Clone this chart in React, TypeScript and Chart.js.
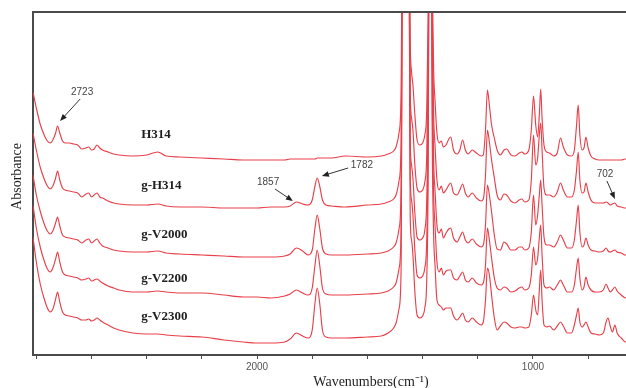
import React, { useEffect, useRef } from 'react';
import { Chart, registerables } from 'chart.js';

Chart.register(...registerables);

// Wavenumber grid (cm-1), shared by all spectra
const wavenumbers = [
  2812, 2800, 2785, 2770, 2760, 2750, 2740, 2730, 2723, 2715,
  2705, 2695, 2680, 2665, 2650, 2635, 2620, 2610, 2600, 2590,
  2580, 2570, 2560, 2540, 2520, 2500, 2450, 2400, 2360, 2330,
  2280, 2200, 2120, 2050, 2000, 1950, 1900, 1880, 1857, 1835,
  1815, 1800, 1790, 1782, 1773, 1763, 1750, 1730, 1680, 1600,
  1550, 1525, 1505, 1495, 1485, 1478, 1472, 1465, 1458, 1450,
  1445, 1440, 1435, 1428, 1420, 1410, 1400, 1392, 1385, 1380,
  1375, 1370, 1365, 1360, 1355, 1348, 1340, 1332, 1325, 1315,
  1305, 1298, 1288, 1275, 1265, 1255, 1245, 1235, 1220, 1205,
  1188, 1180, 1172, 1165, 1158, 1150, 1140, 1130, 1118, 1105,
  1095, 1080, 1065, 1050, 1040, 1030, 1015, 1006, 998, 990,
  983, 977, 972, 967, 960, 950, 940, 925, 912, 900,
  890, 875, 860, 850, 842, 836, 830, 822, 815, 808,
  800, 790, 775, 760, 745, 735, 728, 720, 712, 703,
  695, 680, 665, 650,
];

// Absorbance (stacked, arbitrary offset) for each sample
const h314 = [
  2.63, 2.47, 2.30, 2.19, 2.14, 2.12, 2.15, 2.22, 2.29, 2.22,
  2.14, 2.12, 2.12, 2.11, 2.10, 2.06, 2.07, 2.08, 2.05, 2.06,
  2.10, 2.07, 2.05, 2.03, 2.01, 2.00, 1.99, 2.00, 2.03, 1.99,
  1.98, 1.97, 1.96, 1.95, 1.95, 1.95, 1.95, 1.96, 1.96, 1.96,
  1.96, 1.96, 1.96, 1.97, 1.97, 1.97, 1.97, 1.97, 1.99, 1.98,
  1.99, 2.01, 2.04, 2.09, 2.23, 2.60, 5.05, 5.05, 5.05, 4.75,
  3.15, 2.83, 2.70, 2.40, 2.15, 2.10, 2.12, 2.20, 2.45, 3.35,
  5.05, 5.05, 3.75, 2.85, 2.55, 2.22, 2.12, 2.14, 2.08, 2.10,
  2.16, 2.18, 2.05, 2.01, 2.05, 2.15, 2.05, 2.01, 2.05, 2.02,
  1.99, 2.00, 2.25, 2.65, 2.50, 2.30, 2.17, 2.05, 2.00, 2.05,
  2.06, 2.00, 1.99, 2.02, 2.03, 2.01, 2.05, 2.25, 2.59, 2.30,
  2.18, 2.40, 2.66, 2.37, 2.10, 2.03, 2.02, 1.99, 2.02, 2.17,
  2.08, 2.00, 1.99, 2.05, 2.30, 2.50, 2.20, 2.05, 2.07, 2.18,
  2.07, 1.99, 1.96, 1.95, 1.95, 1.95, 1.95, 1.95, 1.95, 1.95,
  1.95, 1.95, 1.96, 1.96,
];

const gH314 = [
  2.22, 2.05, 1.87, 1.75, 1.69, 1.66, 1.69, 1.77, 1.84, 1.75,
  1.67, 1.65, 1.64, 1.63, 1.62, 1.58, 1.61, 1.62, 1.58, 1.60,
  1.62, 1.58, 1.57, 1.54, 1.52, 1.51, 1.50, 1.50, 1.51, 1.49,
  1.48, 1.48, 1.47, 1.47, 1.47, 1.48, 1.48, 1.49, 1.53, 1.51,
  1.50, 1.55, 1.69, 1.77, 1.69, 1.55, 1.50, 1.49, 1.48, 1.50,
  1.51, 1.53, 1.56, 1.61, 1.75, 2.10, 5.05, 5.05, 5.05, 4.75,
  2.65, 2.37, 2.25, 1.90, 1.67, 1.63, 1.65, 1.73, 2.00, 2.95,
  5.05, 5.05, 3.35, 2.40, 2.10, 1.75, 1.65, 1.69, 1.62, 1.65,
  1.70, 1.72, 1.62, 1.60, 1.65, 1.71, 1.62, 1.58, 1.62, 1.57,
  1.54, 1.56, 1.80, 2.25, 2.13, 1.95, 1.77, 1.60, 1.55, 1.61,
  1.60, 1.54, 1.52, 1.55, 1.56, 1.53, 1.55, 1.75, 2.20, 1.90,
  1.97, 2.20, 2.32, 2.05, 1.67, 1.60, 1.60, 1.58, 1.63, 1.72,
  1.65, 1.58, 1.58, 1.65, 1.85, 2.03, 1.75, 1.62, 1.63, 1.72,
  1.63, 1.55, 1.52, 1.52, 1.52, 1.53, 1.52, 1.50, 1.51, 1.52,
  1.49, 1.48, 1.47, 1.47,
];

const gV2000 = [
  1.80, 1.60, 1.43, 1.30, 1.24, 1.21, 1.24, 1.32, 1.38, 1.29,
  1.20, 1.18, 1.17, 1.16, 1.15, 1.12, 1.15, 1.16, 1.12, 1.14,
  1.16, 1.12, 1.09, 1.07, 1.05, 1.04, 1.03, 1.03, 1.04, 1.02,
  1.01, 1.00, 0.99, 0.98, 0.98, 0.98, 0.99, 1.01, 1.07, 1.04,
  1.00, 1.05, 1.27, 1.40, 1.27, 1.07, 1.01, 1.00, 1.00, 1.01,
  1.02, 1.04, 1.08, 1.13, 1.27, 1.65, 5.05, 5.05, 5.05, 4.75,
  2.15, 1.90, 1.77, 1.42, 1.18, 1.15, 1.17, 1.25, 1.55, 2.55,
  5.05, 5.05, 2.95, 1.95, 1.65, 1.30, 1.22, 1.26, 1.17, 1.22,
  1.26, 1.27, 1.17, 1.13, 1.18, 1.23, 1.15, 1.12, 1.16, 1.11,
  1.08, 1.10, 1.30, 1.70, 1.60, 1.43, 1.20, 1.06, 1.05, 1.13,
  1.11, 1.05, 1.05, 1.08, 1.08, 1.05, 1.07, 1.23, 1.60, 1.30,
  1.40, 1.60, 1.75, 1.50, 1.18, 1.10, 1.10, 1.08, 1.13, 1.20,
  1.15, 1.07, 1.07, 1.15, 1.35, 1.50, 1.23, 1.08, 1.10, 1.17,
  1.10, 1.05, 1.04, 1.03, 1.04, 1.07, 1.04, 1.03, 1.04, 1.05,
  1.03, 1.02, 1.00, 1.00,
];

const gV2200 = [
  1.50, 1.27, 1.07, 0.93, 0.86, 0.83, 0.87, 0.96, 1.03, 0.93,
  0.83, 0.80, 0.79, 0.78, 0.77, 0.75, 0.76, 0.77, 0.74, 0.75,
  0.76, 0.74, 0.72, 0.69, 0.67, 0.65, 0.63, 0.63, 0.64, 0.63,
  0.62, 0.62, 0.60, 0.58, 0.58, 0.57, 0.59, 0.61, 0.65, 0.62,
  0.60, 0.67, 0.90, 1.05, 0.90, 0.67, 0.61, 0.60, 0.60, 0.61,
  0.62, 0.64, 0.68, 0.73, 0.87, 1.25, 5.05, 5.05, 5.05, 4.75,
  1.80, 1.55, 1.40, 1.05, 0.80, 0.77, 0.79, 0.87, 1.15, 2.15,
  5.05, 5.05, 2.55, 1.60, 1.30, 0.93, 0.83, 0.87, 0.80, 0.84,
  0.85, 0.85, 0.77, 0.75, 0.79, 0.83, 0.75, 0.73, 0.77, 0.72,
  0.70, 0.72, 0.90, 1.27, 1.15, 0.97, 0.77, 0.67, 0.65, 0.68,
  0.67, 0.63, 0.64, 0.67, 0.68, 0.65, 0.67, 0.80, 1.08, 0.90,
  0.97, 1.17, 1.30, 1.00, 0.70, 0.67, 0.68, 0.65, 0.70, 0.75,
  0.70, 0.63, 0.63, 0.70, 0.87, 0.97, 0.77, 0.65, 0.68, 0.78,
  0.70, 0.65, 0.63, 0.63, 0.65, 0.71, 0.67, 0.63, 0.65, 0.68,
  0.64, 0.60, 0.57, 0.57,
];

const gV2300 = [
  1.18, 0.93, 0.70, 0.55, 0.47, 0.43, 0.46, 0.56, 0.63, 0.53,
  0.43, 0.40, 0.39, 0.38, 0.37, 0.35, 0.35, 0.36, 0.34, 0.35,
  0.37, 0.35, 0.33, 0.30, 0.27, 0.25, 0.22, 0.21, 0.21, 0.20,
  0.19, 0.18, 0.15, 0.13, 0.12, 0.12, 0.13, 0.16, 0.22, 0.19,
  0.17, 0.25, 0.52, 0.67, 0.52, 0.25, 0.18, 0.17, 0.17, 0.18,
  0.19, 0.22, 0.27, 0.33, 0.47, 0.85, 5.05, 5.05, 5.05, 4.75,
  1.40, 1.15, 1.00, 0.63, 0.40, 0.37, 0.39, 0.47, 0.75, 1.75,
  5.05, 5.05, 2.15, 1.20, 0.90, 0.55, 0.50, 0.48, 0.45, 0.47,
  0.47, 0.47, 0.39, 0.35, 0.38, 0.42, 0.35, 0.33, 0.37, 0.33,
  0.30, 0.33, 0.55, 0.87, 0.80, 0.60, 0.37, 0.25, 0.29, 0.33,
  0.32, 0.28, 0.27, 0.28, 0.28, 0.27, 0.28, 0.40, 0.60, 0.45,
  0.40, 0.65, 0.85, 0.55, 0.30, 0.28, 0.29, 0.25, 0.29, 0.33,
  0.29, 0.22, 0.22, 0.30, 0.40, 0.47, 0.33, 0.28, 0.30, 0.33,
  0.28, 0.22, 0.21, 0.20, 0.22, 0.33, 0.37, 0.29, 0.23, 0.30,
  0.22, 0.17, 0.13, 0.13,
];

const seriesNames = ['H314', 'g-H314', 'g-V2000', 'g-V2200', 'g-V2300'];
const seriesValues = [h314, gH314, gV2000, gV2200, gV2300];
const nameWavenumber = 2420;
const nameAbsorbance = [2.2, 1.69, 1.2, 0.76, 0.38];

const peakLabels = ['2723', '1857', '1782', '702'];
const peakLabelAt = [[2634, 2.63], [1960, 1.73], [1620, 1.9], [739, 1.81]];
const arrowFrom = [[2641, 2.56], [1935, 1.66], [1670, 1.87], [732, 1.74]];
const arrowTo = [[2714, 2.34], [1870, 1.54], [1765, 1.79], [703, 1.56]];

const xLabelled = [2000, 1000];
const xMin = 362;
const xMax = 2812;
const yMin = 0;
const yMax = 3.43;

const LINE = 'rgb(232, 64, 74)';
const AXIS = '#4a4a4a';
const SERIF = '"Liberation Serif", "Times New Roman", serif';
const SANS = '"Liberation Sans", Arial, sans-serif';

function drawArrow(ctx: CanvasRenderingContext2D, x1: number, y1: number, x2: number, y2: number) {
  const ang = Math.atan2(y2 - y1, x2 - x1);
  const head = 7;
  const hw = 2.8;
  const c = Math.cos(ang);
  const s = Math.sin(ang);
  ctx.beginPath();
  ctx.moveTo(x1, y1);
  ctx.lineTo(x2 - head * 0.7 * c, y2 - head * 0.7 * s);
  ctx.stroke();
  ctx.beginPath();
  ctx.moveTo(x2, y2);
  ctx.lineTo(x2 - head * c + hw * s, y2 - head * s - hw * c);
  ctx.lineTo(x2 - head * c - hw * s, y2 - head * s + hw * c);
  ctx.closePath();
  ctx.fill();
}

const annotationPlugin = {
  id: 'spectraAnnotations',
  afterDraw(chart: any) {
    const { ctx, chartArea, scales } = chart;
    const x = scales.x;
    const y = scales.y;
    ctx.save();
    // top frame line
    ctx.strokeStyle = AXIS;
    ctx.lineWidth = 2;
    ctx.beginPath();
    ctx.moveTo(chartArea.left - 1, chartArea.top);
    ctx.lineTo(chartArea.right, chartArea.top);
    ctx.stroke();

    // sample names
    ctx.fillStyle = '#1e1e1e';
    ctx.font = 'bold 13px ' + SERIF;
    ctx.textAlign = 'left';
    ctx.textBaseline = 'middle';
    seriesNames.forEach((n, i) => {
      ctx.fillText(n, x.getPixelForValue(nameWavenumber), y.getPixelForValue(nameAbsorbance[i]));
    });

    // peak labels and arrows
    ctx.font = '10px ' + SANS;
    ctx.fillStyle = '#444';
    ctx.textAlign = 'center';
    peakLabels.forEach((t, i) => {
      ctx.fillText(t, x.getPixelForValue(peakLabelAt[i][0]), y.getPixelForValue(peakLabelAt[i][1]));
    });
    ctx.strokeStyle = '#333';
    ctx.fillStyle = '#222';
    ctx.lineWidth = 1;
    arrowFrom.forEach((f, i) => {
      drawArrow(
        ctx,
        x.getPixelForValue(f[0]), y.getPixelForValue(f[1]),
        x.getPixelForValue(arrowTo[i][0]), y.getPixelForValue(arrowTo[i][1])
      );
    });

    // y axis title
    ctx.fillStyle = '#1e1e1e';
    ctx.font = '14px ' + SERIF;
    ctx.textAlign = 'center';
    ctx.textBaseline = 'middle';
    ctx.translate(chartArea.left - 16, (chartArea.top + chartArea.bottom) / 2 - 7);
    ctx.rotate(-Math.PI / 2);
    ctx.fillText('Absorbance', 0, 0);
    ctx.restore();
  },
};

export default function App() {
  const canvasRef = useRef<HTMLCanvasElement | null>(null);

  useEffect(() => {
    document.body.style.margin = '0';
    const canvas = canvasRef.current;
    if (!canvas) return;
    const datasets = seriesValues.map((vals, si) => ({
      label: seriesNames[si],
      data: wavenumbers.map((w, i) => ({ x: w, y: vals[i] })),
      borderColor: LINE,
      borderWidth: 1.15,
      pointRadius: 0,
      fill: false,
      cubicInterpolationMode: 'monotone' as const,
    }));
    const chart = new Chart(canvas, {
      type: 'line',
      data: { datasets },
      options: {
        animation: false,
        responsive: false,
        devicePixelRatio: 1,
        layout: { padding: { top: 12, right: 11, left: 0, bottom: 0 } },
        plugins: { legend: { display: false }, tooltip: { enabled: false } },
        scales: {
          x: {
            type: 'linear',
            reverse: true,
            min: xMin,
            max: xMax,
            afterFit: (s: any) => { s.height = 33; },
            ticks: {
              stepSize: 200,
              includeBounds: false,
              autoSkip: false,
              maxRotation: 0,
              padding: 2,
              color: '#555',
              font: { size: 10, family: SANS },
              callback: (v: any) => (xLabelled.includes(Number(v)) ? String(v) : ''),
            },
            grid: { display: true, drawOnChartArea: false, drawTicks: true, tickLength: 4, color: AXIS, lineWidth: 1 },
            border: { display: true, color: AXIS, width: 2 },
            title: {
              display: true,
              text: 'Wavenumbers(cm\u207B\u00B9)',
              color: '#1e1e1e',
              font: { family: SERIF, size: 14, lineHeight: 1 },
              padding: { top: 0, bottom: -1 },
            },
          },
          y: {
            type: 'linear',
            min: yMin,
            max: yMax,
            afterFit: (s: any) => { s.width = 33; },
            ticks: { display: false },
            grid: { display: false },
            border: { display: true, color: AXIS, width: 2 },
          },
        },
      },
      plugins: [annotationPlugin],
    });
    return () => chart.destroy();
  }, []);

  return (
    <div style={{ width: 626, height: 388, overflow: 'hidden', position: 'relative', background: '#fff' }}>
      <canvas ref={canvasRef} width={720} height={388} style={{ display: 'block' }} />
    </div>
  );
}
